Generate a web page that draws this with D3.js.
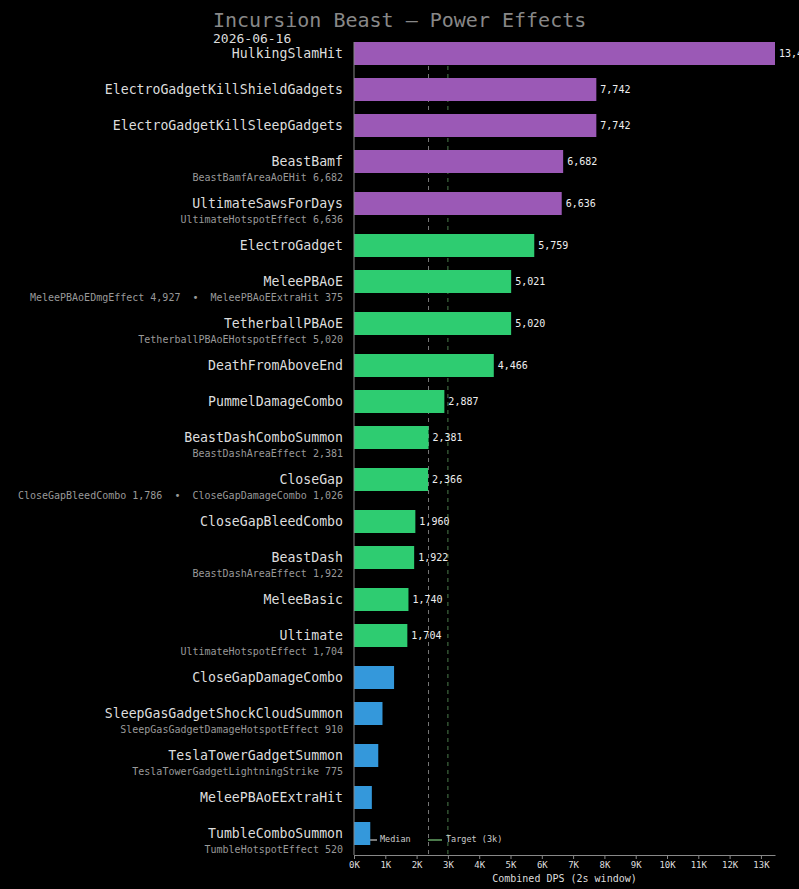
<!DOCTYPE html>
<html><head><meta charset="utf-8">
<script src="https://cdn.jsdelivr.net/npm/d3@7"></script>
<style>html,body{margin:0;padding:0;background:#000;}svg{display:block;}</style>
</head><body>
<svg id="chart" width="799" height="889"></svg>
<script>
const powers = ["HulkingSlamHit","ElectroGadgetKillShieldGadgets","ElectroGadgetKillSleepGadgets","BeastBamf","UltimateSawsForDays","ElectroGadget","MeleePBAoE","TetherballPBAoE","DeathFromAboveEnd","PummelDamageCombo","BeastDashComboSummon","CloseGap","CloseGapBleedCombo","BeastDash","MeleeBasic","Ultimate","CloseGapDamageCombo","SleepGasGadgetShockCloudSummon","TeslaTowerGadgetSummon","MeleePBAoEExtraHit","TumbleComboSummon"];
const dps = [13450,7742,7742,6682,6636,5759,5021,5020,4466,2887,2381,2366,1960,1922,1740,1704,1280,910,775,570,520];
const tiers = ["high","high","high","high","high","mid","mid","mid","mid","mid","mid","mid","mid","mid","mid","mid","low","low","low","low","low"];
const subLabels = ["","","","BeastBamfAreaAoEHit 6,682","UltimateHotspotEffect 6,636","","MeleePBAoEDmgEffect 4,927  \u2022  MeleePBAoEExtraHit 375","TetherballPBAoEHotspotEffect 5,020","","","BeastDashAreaEffect 2,381","CloseGapBleedCombo 1,786  \u2022  CloseGapDamageCombo 1,026","","BeastDashAreaEffect 1,922","","UltimateHotspotEffect 1,704","","SleepGasGadgetDamageHotspotEffect 910","TeslaTowerGadgetLightningStrike 775","","TumbleHotspotEffect 520"];
const xTicks = [0,1000,2000,3000,4000,5000,6000,7000,8000,9000,10000,11000,12000,13000];
const targetDps = 3000;
const titleText = "Incursion Beast \u2014 Power Effects";
const dateText = "2026-06-16";
const xTitle = "Combined DPS (2s window)";

const tierColor = {high:"#9b59b6", mid:"#2ecc71", low:"#3498db"};
const font = "'DejaVu Sans Mono', monospace";
const svg = d3.select("#chart");

const plotLeft = 354, plotRight = 775, plotTop = 42, axisY = 855;
const rowH = 36, subExtra = 6, barH = 23;

const offsets = [];
let acc = 0;
powers.forEach((p,i)=>{ offsets.push(acc); acc += rowH + (subLabels[i] ? subExtra : 0); });
const y = d3.scaleLinear().domain([0, acc]).range([plotTop, plotTop + acc]);
const x = d3.scaleLinear().domain([0, d3.max(dps)]).range([plotLeft, plotRight]);

const median = d3.median(dps);

svg.append("line").attr("x1", x(median)).attr("x2", x(median)).attr("y1", plotTop).attr("y2", axisY)
  .attr("stroke", "#777").attr("stroke-width", 1).attr("stroke-dasharray", "4,4");
svg.append("line").attr("x1", x(targetDps)).attr("x2", x(targetDps)).attr("y1", plotTop).attr("y2", axisY)
  .attr("stroke", "#4b7a4b").attr("stroke-width", 1).attr("stroke-dasharray", "4,4");

const legY = 839;
svg.append("line").attr("x1", 367).attr("x2", 377).attr("y1", legY+1).attr("y2", legY+1).attr("stroke", "#777").attr("stroke-width", 2);
svg.append("text").attr("x", 380).attr("y", legY).attr("dy", "0.35em").attr("fill", "#ccc")
  .style("font-family", font).style("font-size", "8.5px").text("Median");
svg.append("line").attr("x1", 428).attr("x2", 442).attr("y1", legY+1).attr("y2", legY+1).attr("stroke", "#4b7a4b").attr("stroke-width", 2);
svg.append("text").attr("x", 446).attr("y", legY).attr("dy", "0.35em").attr("fill", "#ccc")
  .style("font-family", font).style("font-size", "8.5px").text("Target (3k)");

const rowData = powers.map((p,i)=>({name:p, value:dps[i], tier:tiers[i], sub:subLabels[i], off:offsets[i]}));
const rows = svg.append("g").selectAll("g").data(rowData).join("g");
rows.append("rect")
  .attr("x", x(0)).attr("y", d=>y(d.off))
  .attr("width", d=>x(d.value) - x(0)).attr("height", barH)
  .attr("fill", d=>tierColor[d.tier]);
rows.append("text")
  .attr("x", plotLeft - 11).attr("y", d=>y(d.off) + barH/2).attr("dy", "0.35em")
  .attr("text-anchor", "end").attr("fill", "#ddd")
  .style("font-family", font).style("font-size", "13.2px").text(d=>d.name);
rows.filter(d=>d.sub).append("text")
  .attr("x", plotLeft - 11).attr("y", d=>y(d.off) + barH/2 + 16).attr("dy", "0.35em")
  .attr("text-anchor", "end").attr("fill", "#999").attr("xml:space", "preserve")
  .style("white-space", "pre")
  .style("font-family", font).style("font-size", "10px").text(d=>d.sub);
rows.filter(d=>d.tier !== "low").append("text")
  .attr("x", d=>x(d.value) + 4).attr("y", d=>y(d.off) + barH/2).attr("dy", "0.35em")
  .attr("fill", "#eee").style("font-family", font).style("font-size", "10px")
  .text(d=>d3.format(",")(d.value));

svg.append("line").attr("x1", plotLeft).attr("x2", plotLeft).attr("y1", plotTop).attr("y2", axisY).attr("stroke", "#888");

const xAxis = d3.axisBottom(x).tickValues(xTicks).tickFormat(d=>(d/1000)+"K").tickSize(4).tickSizeOuter(0);
const gx = svg.append("g").attr("transform", `translate(0,${axisY})`).call(xAxis);
gx.select(".domain").attr("stroke", "#888");
gx.selectAll(".tick line").attr("stroke", "#888");
gx.selectAll(".tick text").attr("fill", "#ddd").style("font-family", font).style("font-size", "9px");

svg.append("text").attr("x", (plotLeft + plotRight)/2).attr("y", 878).attr("dy", "0.35em")
  .attr("text-anchor", "middle").attr("fill", "#ddd").style("font-family", font).style("font-size", "10px").text(xTitle);

svg.append("text").attr("x", 213).attr("y", 27).attr("fill", "#888")
  .style("font-family", font).style("font-size", "20px").text(titleText);
svg.append("text").attr("x", 213).attr("y", 43).attr("fill", "#ddd")
  .style("font-family", font).style("font-size", "13px").text(dateText);
</script>
</body></html>
